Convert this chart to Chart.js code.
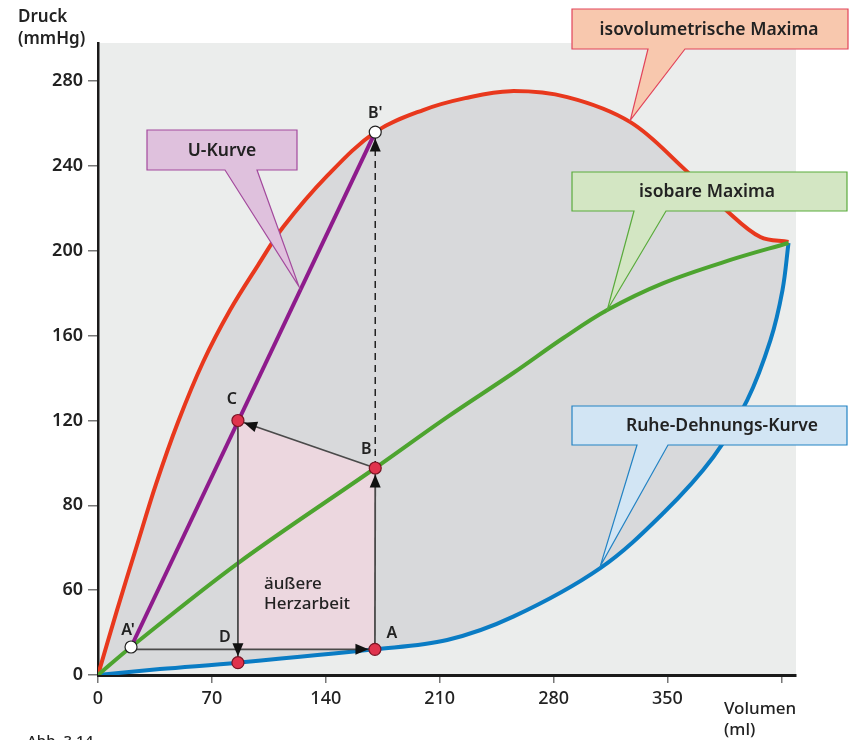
<!DOCTYPE html>
<html>
<head>
<meta charset="utf-8">
<script src="https://cdn.jsdelivr.net/npm/chart.js@4.4.1/dist/chart.umd.min.js"></script>
<style>
  html, body { margin: 0; padding: 0; background: #fff; }
  canvas { display: block; }
</style>
</head>
<body>
<canvas id="pvChart" width="852" height="740"></canvas>
<script>
// Achsen
const xTickLabels = ['0', '70', '140', '210', '280', '350', ''];
const yTickLabels = ['0', '60', '80', '120', '160', '200', '240', '280'];

// isovolumetrische Maxima (rot)
const isoVolumen = [0, 11.7, 24.0, 35.7, 49.2, 64.6, 81.2, 98.4, 113.8, 140.8, 170.4, 199.9, 225.7, 253.4, 288.4, 327.2, 359.8, 386.8, 407.1, 424.4];
const isoDruck   = [0, 30.6, 61.3, 90.1, 119.3, 147.6, 172.1, 193.3, 211.2, 235.3, 256.0, 266.4, 272.0, 275.3, 272.5, 260.7, 239.0, 218.7, 206.5, 204.2];

// isobare Maxima (grün)
const isobarVolumen = [0, 20.3, 86.1, 170.4, 214.6, 255.2, 286.0, 313.0, 347.5, 388.7, 424.4];
const isobarDruck   = [0, 13.2, 52.8, 97.6, 121.6, 142.4, 158.9, 172.1, 184.8, 195.7, 203.7];

// Ruhe-Dehnungs-Kurve (blau)
const ruheVolumen = [0, 38.1, 86, 170.2, 214.6, 255.2, 308.7, 347.5, 378.2, 399.1, 413.3, 420.7, 424.4];
const ruheDruck   = [0, 2.8, 5.8, 12.1, 16.5, 27.5, 50.4, 76.4, 102.8, 129.7, 157.9, 181.5, 203.7];

// U-Kurve (violett)
const uVolumen = [20.3, 170.4];
const uDruck   = [13.2, 256];

// Arbeitspunkte
const punktNamen   = ["A'", 'A', 'B', 'C', 'D', "B'"];
const punktVolumen = [20.3, 170.2, 170.4, 86, 86, 170.4];
const punktDruck   = [13.2, 12.1, 97.6, 120, 5.8, 256];

const pts = (xs, ys) => xs.map((v, i) => ({ x: v, y: ys[i] }));
const P = name => punktNamen.indexOf(name);
const pt = name => ({ x: punktVolumen[P(name)], y: punktDruck[P(name)] });

// Pfeile: von -> nach
const pfeile = [
  { von: { x: pt("A'").x, y: pt('A').y }, nach: pt('A') },
  { von: pt('A'), nach: pt('B') },
  { von: pt('B'), nach: pt('C') },
  { von: pt('C'), nach: pt('D') },
  { von: pt('B'), nach: pt("B'"), dash: true }
];

const FONT = "'Noto Sans', sans-serif";
Chart.defaults.font.family = FONT;

const BLAU_IDX = 8;

function pfeilspitze(ctx, x0, y0, x1, y1, r) {
  const a = Math.atan2(y1 - y0, x1 - x0);
  const tx = x1 - Math.cos(a) * r, ty = y1 - Math.sin(a) * r;
  const L = 13, W = 5.5;
  const bx = tx - Math.cos(a) * L, by = ty - Math.sin(a) * L;
  ctx.beginPath();
  ctx.moveTo(tx, ty);
  ctx.lineTo(bx - Math.sin(a) * W, by + Math.cos(a) * W);
  ctx.lineTo(bx + Math.sin(a) * W, by - Math.cos(a) * W);
  ctx.closePath();
  ctx.fillStyle = '#111';
  ctx.fill();
}

function sprechblase(ctx, b, tip, fill, stroke, text, textX) {
  ctx.save();
  ctx.beginPath();
  ctx.moveTo(b.l, b.t);
  ctx.lineTo(b.r, b.t);
  ctx.lineTo(b.r, b.b);
  ctx.lineTo(b.p2, b.b);
  ctx.lineTo(tip.x, tip.y);
  ctx.lineTo(b.p1, b.b);
  ctx.lineTo(b.l, b.b);
  ctx.closePath();
  ctx.fillStyle = fill;
  ctx.fill();
  ctx.lineWidth = 1.2;
  ctx.strokeStyle = stroke;
  ctx.stroke();
  ctx.fillStyle = '#222';
  ctx.font = '600 17.5px ' + FONT;
  ctx.textAlign = 'center';
  ctx.textBaseline = 'middle';
  ctx.fillText(text, textX, (b.t + b.b) / 2 + 1);
  ctx.restore();
}

const labelOffset = { "A'": [-3, -17], 'A': [17, -16], 'B': [-9, -19], 'C': [-6, -21], 'D': [-13, -25], "B'": [0, -19] };

const pvDeko = {
  id: 'pvDeko',
  beforeDraw(chart) {
    const { ctx, chartArea: a } = chart;
    ctx.save();
    ctx.fillStyle = '#ebedec';
    ctx.fillRect(a.left, a.top, a.right - a.left, a.bottom - a.top);
    ctx.restore();
  },
  beforeDatasetDraw(chart, args) {
    if (args.index !== BLAU_IDX) return;
    const { ctx, scales: { x, y } } = chart;
    const ecken = [pt('C'), pt('B'), pt('A'), { x: pt('D').x, y: pt('A').y }];
    ctx.save();
    ctx.beginPath();
    ecken.forEach((e, i) => {
      const px = x.getPixelForValue(e.x), py = y.getPixelForValue(e.y);
      i ? ctx.lineTo(px, py) : ctx.moveTo(px, py);
    });
    ctx.closePath();
    ctx.fillStyle = '#ecd7df';
    ctx.fill();
    ctx.restore();
  },
  afterDatasetsDraw(chart) {
    const { ctx, scales: { x, y } } = chart;
    const X = v => x.getPixelForValue(v), Y = v => y.getPixelForValue(v);

    // Pfeilspitzen
    pfeile.forEach(p => {
      pfeilspitze(ctx, X(p.von.x), Y(p.von.y), X(p.nach.x), Y(p.nach.y), 6.5);
    });

    // Punktbeschriftungen
    ctx.save();
    ctx.fillStyle = '#222';
    ctx.font = '600 16px ' + FONT;
    ctx.textAlign = 'center';
    ctx.textBaseline = 'middle';
    punktNamen.forEach((n, i) => {
      const o = labelOffset[n];
      ctx.fillText(n, X(punktVolumen[i]) + o[0], Y(punktDruck[i]) + o[1]);
    });

    // äußere Herzarbeit
    ctx.font = '500 17px ' + FONT;
    ctx.textAlign = 'left';
    ctx.textBaseline = 'alphabetic';
    ctx.fillText('äußere', X(102), 589);
    ctx.fillText('Herzarbeit', X(102), 609);

    // Achsentitel
    ctx.font = '600 17px ' + FONT;
    ctx.fillText('Druck', 18, 22);
    ctx.fillText('(mmHg)', 18, 44);
    ctx.font = '500 17px ' + FONT;
    ctx.fillText('Volumen', 724, 714);
    ctx.fillText('(ml)', 724, 735);
    ctx.font = '500 15px ' + FONT;
    ctx.fillText('Abb. 3.14', 27, 746);
    ctx.restore();

    // Sprechblasen
    const uTip = {
      x: X(uVolumen[0] + 0.7 * (uVolumen[1] - uVolumen[0])) - 3,
      y: Y(uDruck[0] + 0.7 * (uDruck[1] - uDruck[0]))
    };
    sprechblase(ctx, { l: 147, t: 130, r: 297, b: 170, p1: 225, p2: 257 }, uTip,
      '#dfc1dd', '#a34a9d', 'U-Kurve', 222);
    sprechblase(ctx, { l: 572, t: 9, r: 848, b: 49, p1: 648, p2: 685 },
      { x: X(isoVolumen[15]), y: Y(isoDruck[15]) - 2 },
      '#f8c8ae', '#e2445a', 'isovolumetrische Maxima', 709);
    sprechblase(ctx, { l: 572, t: 172, r: 847, b: 211, p1: 634, p2: 666 },
      { x: X(isobarVolumen[7]), y: Y(isobarDruck[7]) },
      '#d3e6c3', '#5aab3c', 'isobare Maxima', 707);
    sprechblase(ctx, { l: 572, t: 406, r: 847, b: 445, p1: 637, p2: 668 },
      { x: X(ruheVolumen[6]), y: Y(ruheDruck[6]) - 2 },
      '#d2e5f4', '#2383c4', 'Ruhe-Dehnungs-Kurve', 722);
  }
};

const kurve = (data, color) => ({
  data, borderColor: color, borderWidth: 4, pointRadius: 0,
  tension: 0.35, fill: false
});

const pfeilDatasets = pfeile.map(p => ({
  data: [p.von, p.nach],
  borderColor: p.dash ? '#222' : '#4a4a4a',
  borderWidth: p.dash ? 1.5 : 1.8,
  borderDash: p.dash ? [7, 5] : [],
  pointRadius: 0, tension: 0, fill: false
}));

new Chart(document.getElementById('pvChart'), {
  type: 'line',
  data: {
    datasets: [
      {
        label: 'Punkte',
        data: pts(punktVolumen, punktDruck),
        showLine: false,
        pointRadius: 6,
        pointBorderWidth: 1.2,
        pointBackgroundColor: punktNamen.map(n => n.includes("'") ? '#ffffff' : '#e0334d'),
        pointBorderColor: punktNamen.map(n => n.includes("'") ? '#222' : '#7a1424')
      },
      ...pfeilDatasets,
      { ...kurve(pts(uVolumen, uDruck), '#8e1b8c'), tension: 0 },
      kurve(pts(isobarVolumen, isobarDruck), '#4da42f'),
      kurve(pts(ruheVolumen, ruheDruck), '#0a7cc4'),
      { ...kurve(pts(isoVolumen, isoDruck), '#e8381d'), fill: { target: BLAU_IDX }, backgroundColor: '#d8d9db' }
    ]
  },
  options: {
    responsive: false,
    animation: false,
    devicePixelRatio: 1,
    layout: { padding: { top: 43, right: 56, left: 0, bottom: 0 } },
    plugins: { legend: { display: false }, tooltip: { enabled: false } },
    scales: {
      x: {
        type: 'linear', min: 0, max: 429,
        ticks: {
          stepSize: 70, includeBounds: false, padding: 5,
          color: '#222', font: { size: 18, weight: '500' },
          callback: v => xTickLabels[Math.round(v / 70)] ?? ''
        },
        grid: { drawOnChartArea: false, drawTicks: true, tickLength: 8, color: '#777', lineWidth: 1.5 },
        border: { color: '#1a1a1a', width: 3 },
        afterFit: s => { s.height = 65; }
      },
      y: {
        type: 'linear', min: 0, max: 298,
        ticks: {
          stepSize: 40, includeBounds: false, padding: 5,
          color: '#222', font: { size: 18, weight: '600' },
          callback: v => yTickLabels[Math.round(v / 40)] ?? ''
        },
        grid: { drawOnChartArea: false, drawTicks: true, tickLength: 10, color: '#777', lineWidth: 1.5 },
        border: { color: '#1a1a1a', width: 2.5 },
        afterFit: s => { s.width = 98; }
      }
    }
  },
  plugins: [pvDeko]
});
</script>
</body>
</html>
